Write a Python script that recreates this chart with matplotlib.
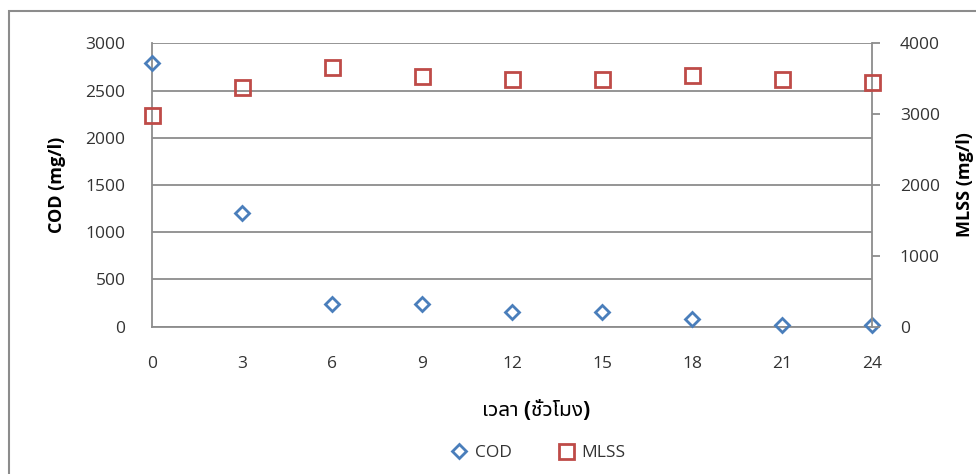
import matplotlib
matplotlib.use("Agg")
import matplotlib.pyplot as plt
from matplotlib.lines import Line2D
from matplotlib.patches import Rectangle

plt.rcParams['font.family'] = ['Open Sans', 'Noto Sans Thai UI', 'DejaVu Sans']

hours = [0, 3, 6, 9, 12, 15, 18, 21, 24]
cod = [2790, 1200, 240, 240, 160, 160, 80, 20, 20]
mlss = [2990, 3380, 3670, 3540, 3490, 3490, 3550, 3500, 3450]

cod_ticks = [0, 500, 1000, 1500, 2000, 2500, 3000]
mlss_ticks = [0, 1000, 2000, 3000, 4000]

blue = '#4A7EBB'
red = '#BE4B48'
grid = '#8C8C8C'
txt = '#333333'

W, H = 976, 474
fig = plt.figure(figsize=(W / 100, H / 100), dpi=100)
ax = fig.add_axes([152 / W, 1 - 326.7 / H, 720 / W, 283.4 / H])
ax2 = ax.twinx()

ax.plot(hours, cod, linestyle='none', marker='D', ms=7.5, mfc='none',
        mec=blue, mew=2, clip_on=False, zorder=3)
ax2.plot(hours, mlss, linestyle='none', marker='s', ms=10.8, mfc='none',
         mec=red, mew=2, clip_on=False, zorder=3)

ax.set_xlim(0, 24)
ax.set_xticks(hours)
ax.set_ylim(0, 3000)
ax.set_yticks(cod_ticks)
ax2.set_ylim(0, 4000)
ax2.set_yticks(mlss_ticks)

ax.yaxis.grid(True, color=grid, linewidth=1.3)
ax.set_axisbelow(True)

for a in (ax, ax2):
    for s in a.spines.values():
        s.set_visible(False)
ax.spines['left'].set_visible(True)
ax.spines['bottom'].set_visible(True)
ax2.spines['right'].set_visible(True)
for s in (ax.spines['left'], ax.spines['bottom'], ax2.spines['right']):
    s.set_color(grid)
    s.set_linewidth(1.3)

ax.tick_params(axis='y', length=0, pad=19, labelsize=12.5, labelcolor=txt)
ax.tick_params(axis='x', length=0, pad=21, labelsize=12.5, labelcolor=txt)
ax2.tick_params(axis='y', length=6, width=1.3, color=grid, pad=14,
                labelsize=12.5, labelcolor=txt)

ax.set_ylabel('COD (mg/l)', fontsize=13, fontweight='bold', labelpad=14)
ax2.set_ylabel('MLSS (mg/l)', fontsize=13, fontweight='bold', labelpad=12)
ax.set_xlabel('เวลา (ชั่วโมง)', fontsize=15, fontweight='bold')
ax.xaxis.set_label_coords((536 - 152) / 720, -(410 - 326.7) / 283.4)
ax.xaxis.label.set_verticalalignment('center')

handles = [
    Line2D([], [], linestyle='none', marker='D', ms=7.5, mfc='none', mec=blue, mew=2),
    Line2D([], [], linestyle='none', marker='s', ms=10.8, mfc='none', mec=red, mew=2),
]
fig.legend(handles, ['COD', 'MLSS'], loc='center', bbox_to_anchor=(538 / W, 1 - 453 / H),
           ncol=2, frameon=False, fontsize=12.5, handlelength=1.0, handletextpad=0.4,
           columnspacing=2.6, labelcolor=txt)

# chart frame
fig.patches.append(Rectangle((8.5 / W, -0.05), 1.0, 1 - 11 / H + 0.05,
                             transform=fig.transFigure, fill=False,
                             edgecolor='#8C8C8C', linewidth=1.5))

fig.savefig('out.png', dpi=100)
